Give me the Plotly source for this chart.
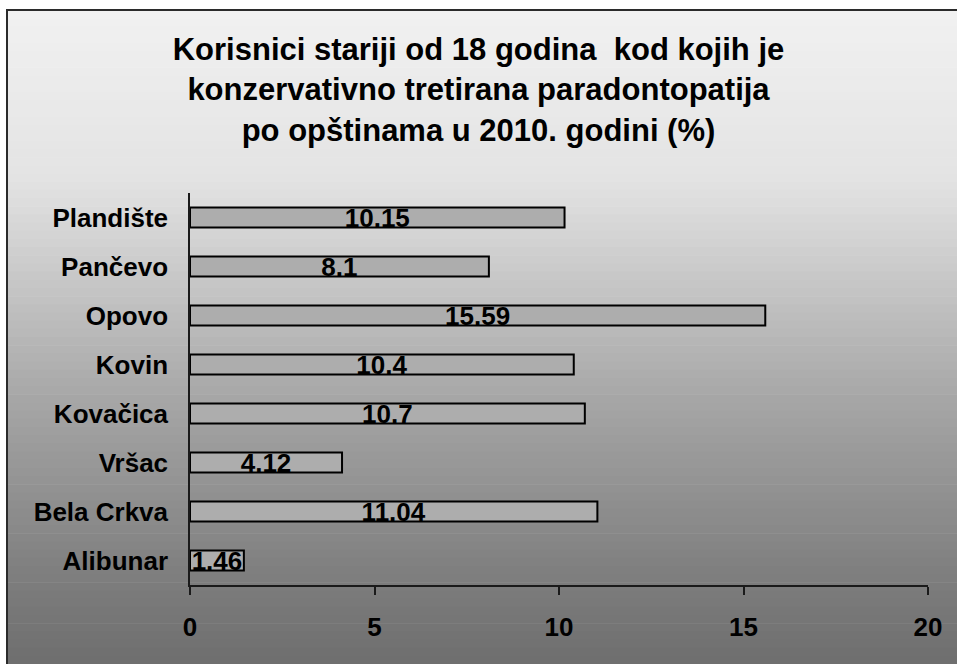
import numpy as np
import plotly.graph_objects as go

# data (bottom to top, as drawn)
opstine = ["Alibunar", "Bela Crkva", "Vršac", "Kovačica", "Kovin", "Opovo", "Pančevo", "Plandište"]
procenat = [1.46, 11.04, 4.12, 10.7, 10.4, 15.59, 8.1, 10.15]
x_ticks = [0, 5, 10, 15, 20]

FONT = "Arial, Liberation Sans, sans-serif"
W, H = 957, 664
L, R, T, B = 190, 29, 193, 79
plot_h = H - T - B
plot_w = W - L - R

fig = go.Figure()

fig.add_trace(go.Bar(
    y=opstine, x=procenat, orientation="h",
    width=0.41,
    marker=dict(color="#adadad", line=dict(color="black", width=2)),
    text=[str(v) for v in procenat],
    textposition="inside", insidetextanchor="middle",
    textangle=0,
    textfont=dict(family=FONT, size=26, color="black", weight="bold"),
    cliponaxis=False,
    hoverinfo="skip",
))

# gradient chart-area background made from thin horizontal strips
def px_to_paper_y(py):
    return (H - B - py) / plot_h

def px_to_paper_x(px):
    return (px - L) / plot_w

stops_y = [10, 180, 400, 585, 664]
stops_c = [241, 227, 166, 124, 110]
shapes = []
n = 80
edges = np.linspace(10, 664, n + 1)
for i in range(n):
    mid = (edges[i] + edges[i + 1]) / 2
    g = int(round(np.interp(mid, stops_y, stops_c)))
    shapes.append(dict(
        type="rect", xref="paper", yref="paper", layer="below",
        x0=px_to_paper_x(7), x1=px_to_paper_x(W + 5),
        y0=px_to_paper_y(edges[i + 1] + 0.6), y1=px_to_paper_y(edges[i]),
        fillcolor=f"rgb({g},{g},{g})", line=dict(width=0),
    ))
# chart border
shapes.append(dict(
    type="rect", xref="paper", yref="paper", layer="below",
    x0=px_to_paper_x(7), x1=px_to_paper_x(W + 5),
    y0=px_to_paper_y(H + 5), y1=px_to_paper_y(10),
    fillcolor="rgba(0,0,0,0)", line=dict(color="#2b2b2b", width=2),
))

fig.update_layout(
    width=W, height=H,
    margin=dict(l=L, r=R, t=T, b=B),
    paper_bgcolor="white",
    plot_bgcolor="rgba(0,0,0,0)",
    shapes=shapes,
    showlegend=False,
    uniformtext=dict(minsize=26, mode="show"),
    title=dict(
        text="Korisnici stariji od 18 godina  kod kojih je<br>"
             "konzervativno tretirana paradontopatija<br>"
             "po opštinama u 2010. godini (%)",
        x=0.5, xanchor="center", xref="container",
        y=1 - 60 / H, yanchor="middle", yref="container",
        font=dict(family=FONT, size=31, color="black", weight="bold"),
    ),
    font=dict(family=FONT, color="black"),
)

fig.update_xaxes(
    range=[0, 20], tickvals=x_ticks, showgrid=False, zeroline=False,
    showline=True, linecolor="#1a1a1a", linewidth=1.5,
    ticks="outside", ticklen=8, tickcolor="#1a1a1a", tickwidth=1.5,
    ticklabelstandoff=10,
    tickfont=dict(family=FONT, size=26, color="black", weight="bold"),
)
fig.update_yaxes(
    showgrid=False, zeroline=False,
    showline=True, linecolor="#1a1a1a", linewidth=1.5,
    ticks="", ticklabelstandoff=15,
    tickfont=dict(family=FONT, size=26, color="black", weight="bold"),
)

# drop the default page margin so the figure sits at the window's corner
fig.write_html("out.html", config={"displayModeBar": False},
               post_script="document.body.style.margin='0';")
